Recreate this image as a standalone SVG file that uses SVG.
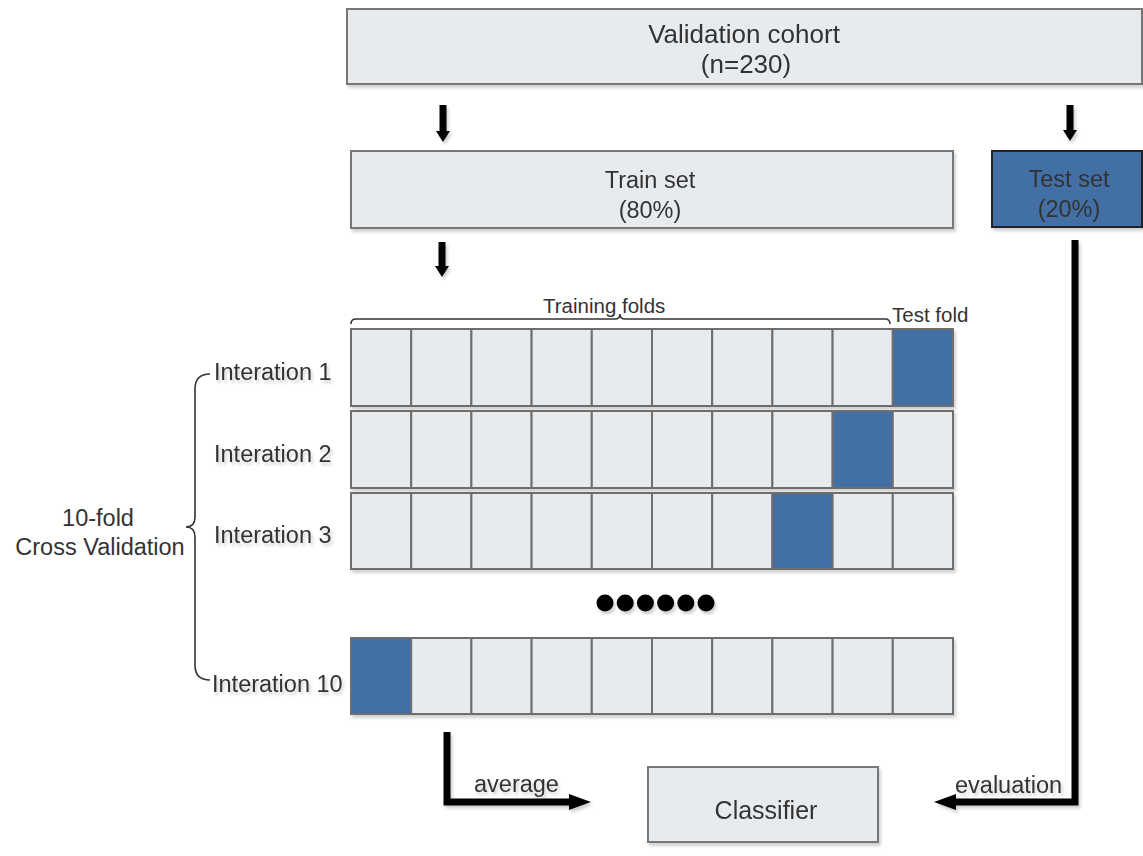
<svg xmlns="http://www.w3.org/2000/svg" width="1143" height="856" viewBox="0 0 1143 856">
  <defs>
    <filter id="shadow" x="-5%" y="-5%" width="115%" height="120%">
      <feDropShadow dx="2" dy="3" stdDeviation="1.5" flood-color="#000" flood-opacity="0.18"/>
    </filter>
    <marker id="bigHead" markerUnits="userSpaceOnUse" markerWidth="24" markerHeight="18" refX="2" refY="8" orient="auto">
      <path d="M0,0 L22,8 L0,16 Z" fill="#000"/>
    </marker>
    <marker id="smallHead" markerUnits="userSpaceOnUse" markerWidth="12" markerHeight="16" refX="1" refY="7" orient="auto">
      <path d="M0,0 L11,7 L0,14 Z" fill="#000"/>
    </marker>
  </defs>
  <style>
    text { font-family: "Liberation Sans", Arial, sans-serif; fill: #333; }
    .box { fill: #E8EBEE; stroke: #777; stroke-width: 2; }
    .blue { fill: #426FA4; stroke: #222; stroke-width: 2; }
    .cell { fill: #E8EBEE; stroke: #6E6E6E; stroke-width: 2; }
    .cell.on { fill: #426FA4; }
    .big { font-size: 26px; text-anchor: middle; }
    .mid { font-size: 23.5px; }
    .small { font-size: 20.5px; }
    .brace { fill: none; stroke: #333; stroke-width: 1.6; }
    .thick { fill: none; stroke: #000; stroke-width: 7; }
    .down { fill: none; stroke: #000; stroke-width: 7; marker-end: url(#smallHead); }
  </style>

  <!-- top-level boxes -->
  <g id="validation-cohort" filter="url(#shadow)">
    <rect class="box" x="347" y="9" width="795" height="75"/>
    <text class="big" x="744" y="43">Validation cohort</text>
    <text class="big" x="746" y="73">(n=230)</text>
  </g>

  <g id="train-set" filter="url(#shadow)">
    <rect class="box" x="351" y="151" width="602" height="77"/>
    <text class="big" x="650" y="188" style="font-size:23.5px">Train set</text>
    <text class="big" x="650" y="218" style="font-size:23.5px">(80%)</text>
  </g>

  <g id="test-set" filter="url(#shadow)">
    <rect class="blue" x="992" y="151" width="150" height="76"/>
    <text class="big" x="1069" y="187" style="font-size:23.5px">Test set</text>
    <text class="big" x="1069" y="217" style="font-size:23.5px">(20%)</text>
  </g>

  <!-- fold labels -->
  <g id="fold-labels">
    <text class="small" x="543" y="313">Training folds</text>
    <text class="small" x="892" y="322">Test fold</text>
    <path class="brace" d="M351,324 Q351,319 356,319 L615,319 Q620,319 620,314 Q620,319 625,319 L885,319 Q890,319 890,324"/>
  </g>

  <!-- cross validation brace and label -->
  <g id="cross-validation">
    <text class="mid" x="98" y="526" text-anchor="middle">10-fold</text>
    <text class="mid" x="100" y="555" text-anchor="middle">Cross Validation</text>
    <path class="brace" d="M210,374 Q195,374 195,389 L195,517 Q195,527 186,527 Q195,527 195,537 L195,665 Q195,680 210,680"/>
  </g>

  <!-- iteration rows: ten folds each, the held-out fold in blue -->
  <g id="iteration-1" filter="url(#shadow)">
    <text class="mid" x="214" y="380">Interation 1</text>
    <rect class="cell" x="351" y="329" width="60.2" height="77"/>
    <rect class="cell" x="411.2" y="329" width="60.2" height="77"/>
    <rect class="cell" x="471.4" y="329" width="60.2" height="77"/>
    <rect class="cell" x="531.6" y="329" width="60.2" height="77"/>
    <rect class="cell" x="591.8" y="329" width="60.2" height="77"/>
    <rect class="cell" x="652" y="329" width="60.2" height="77"/>
    <rect class="cell" x="712.2" y="329" width="60.2" height="77"/>
    <rect class="cell" x="772.4" y="329" width="60.2" height="77"/>
    <rect class="cell" x="832.6" y="329" width="60.2" height="77"/>
    <rect class="cell on" x="892.8" y="329" width="60.2" height="77"/>
  </g>

  <g id="iteration-2" filter="url(#shadow)">
    <text class="mid" x="214" y="462">Interation 2</text>
    <rect class="cell" x="351" y="411" width="60.2" height="77"/>
    <rect class="cell" x="411.2" y="411" width="60.2" height="77"/>
    <rect class="cell" x="471.4" y="411" width="60.2" height="77"/>
    <rect class="cell" x="531.6" y="411" width="60.2" height="77"/>
    <rect class="cell" x="591.8" y="411" width="60.2" height="77"/>
    <rect class="cell" x="652" y="411" width="60.2" height="77"/>
    <rect class="cell" x="712.2" y="411" width="60.2" height="77"/>
    <rect class="cell" x="772.4" y="411" width="60.2" height="77"/>
    <rect class="cell on" x="832.6" y="411" width="60.2" height="77"/>
    <rect class="cell" x="892.8" y="411" width="60.2" height="77"/>
  </g>

  <g id="iteration-3" filter="url(#shadow)">
    <text class="mid" x="214" y="543">Interation 3</text>
    <rect class="cell" x="351" y="493" width="60.2" height="76"/>
    <rect class="cell" x="411.2" y="493" width="60.2" height="76"/>
    <rect class="cell" x="471.4" y="493" width="60.2" height="76"/>
    <rect class="cell" x="531.6" y="493" width="60.2" height="76"/>
    <rect class="cell" x="591.8" y="493" width="60.2" height="76"/>
    <rect class="cell" x="652" y="493" width="60.2" height="76"/>
    <rect class="cell" x="712.2" y="493" width="60.2" height="76"/>
    <rect class="cell on" x="772.4" y="493" width="60.2" height="76"/>
    <rect class="cell" x="832.6" y="493" width="60.2" height="76"/>
    <rect class="cell" x="892.8" y="493" width="60.2" height="76"/>
  </g>

  <g id="ellipsis" filter="url(#shadow)">
    <circle cx="605" cy="603" r="8.5" fill="#000"/>
    <circle cx="625.2" cy="603" r="8.5" fill="#000"/>
    <circle cx="645.4" cy="603" r="8.5" fill="#000"/>
    <circle cx="665.6" cy="603" r="8.5" fill="#000"/>
    <circle cx="685.8" cy="603" r="8.5" fill="#000"/>
    <circle cx="706" cy="603" r="8.5" fill="#000"/>
  </g>

  <g id="iteration-10" filter="url(#shadow)">
    <text class="mid" x="212" y="692">Interation 10</text>
    <rect class="cell on" x="351" y="638" width="60.2" height="76"/>
    <rect class="cell" x="411.2" y="638" width="60.2" height="76"/>
    <rect class="cell" x="471.4" y="638" width="60.2" height="76"/>
    <rect class="cell" x="531.6" y="638" width="60.2" height="76"/>
    <rect class="cell" x="591.8" y="638" width="60.2" height="76"/>
    <rect class="cell" x="652" y="638" width="60.2" height="76"/>
    <rect class="cell" x="712.2" y="638" width="60.2" height="76"/>
    <rect class="cell" x="772.4" y="638" width="60.2" height="76"/>
    <rect class="cell" x="832.6" y="638" width="60.2" height="76"/>
    <rect class="cell" x="892.8" y="638" width="60.2" height="76"/>
  </g>

  <g id="classifier" filter="url(#shadow)">
    <rect class="box" x="648" y="767" width="230" height="75"/>
    <text class="big" x="766" y="819" style="font-size:25px">Classifier</text>
  </g>

  <!-- connectors -->
  <g id="connectors" filter="url(#shadow)">
    <path class="down" d="M443,105 V132"/>
    <path class="down" d="M1070,105 V131"/>
    <path class="down" d="M442,242 V267"/>
    <path class="thick" d="M447,732 V802 H571" marker-end="url(#bigHead)"/>
    <path class="thick" d="M1075,240 V802 H954" marker-end="url(#bigHead)"/>
    <text class="mid" x="474" y="792">average</text>
    <text class="mid" x="955" y="793">evaluation</text>
  </g>
</svg>
